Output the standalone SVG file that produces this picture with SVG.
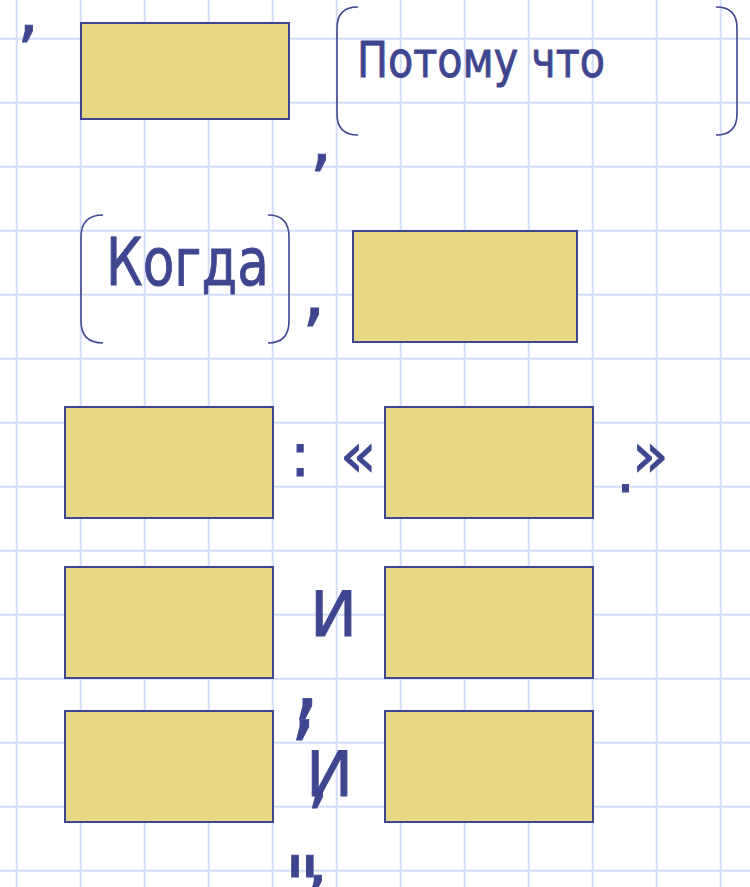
<svg xmlns="http://www.w3.org/2000/svg" width="750" height="887" viewBox="0 0 750 887">
<defs>
<style>
.grid line{stroke:#D3DDF8;stroke-width:2}
.box{fill:#EAD784;stroke:#3F4690;stroke-width:2}
.br{fill:none;stroke:#3F4690;stroke-width:1.6}
.t{fill:#3F4690;stroke:#3F4690;stroke-width:0.9;font-family:"DejaVu Sans","Liberation Sans",sans-serif}
</style>
</defs>
<rect width="750" height="887" fill="#fff"/>
<g class="grid">
<line x1="16.7" y1="0" x2="16.7" y2="887"/><line x1="80.7" y1="0" x2="80.7" y2="887"/><line x1="144.7" y1="0" x2="144.7" y2="887"/><line x1="208.7" y1="0" x2="208.7" y2="887"/><line x1="272.7" y1="0" x2="272.7" y2="887"/><line x1="336.7" y1="0" x2="336.7" y2="887"/><line x1="400.7" y1="0" x2="400.7" y2="887"/><line x1="464.7" y1="0" x2="464.7" y2="887"/><line x1="528.7" y1="0" x2="528.7" y2="887"/><line x1="592.7" y1="0" x2="592.7" y2="887"/><line x1="656.7" y1="0" x2="656.7" y2="887"/><line x1="720.7" y1="0" x2="720.7" y2="887"/>
<line x1="0" y1="38.7" x2="750" y2="38.7"/><line x1="0" y1="102.7" x2="750" y2="102.7"/><line x1="0" y1="166.7" x2="750" y2="166.7"/><line x1="0" y1="230.7" x2="750" y2="230.7"/><line x1="0" y1="294.7" x2="750" y2="294.7"/><line x1="0" y1="358.7" x2="750" y2="358.7"/><line x1="0" y1="422.7" x2="750" y2="422.7"/><line x1="0" y1="486.7" x2="750" y2="486.7"/><line x1="0" y1="550.7" x2="750" y2="550.7"/><line x1="0" y1="614.7" x2="750" y2="614.7"/><line x1="0" y1="678.7" x2="750" y2="678.7"/><line x1="0" y1="742.7" x2="750" y2="742.7"/><line x1="0" y1="806.7" x2="750" y2="806.7"/><line x1="0" y1="870.7" x2="750" y2="870.7"/>
</g>
<g id="row1">
<text class="t" x="17" y="34" font-size="70">,</text>
<rect id="box1" class="box" x="81" y="23" width="208" height="96"/>
<text class="t" x="310" y="163" font-size="70">,</text>
<g id="because">
<path class="br" d="M358,7 Q337,7 337,28 V114 Q337,135 358,135"/>
<path class="br" d="M716,7 Q737,7 737,28 V114 Q737,135 716,135"/>
<text class="t" x="357" y="77" font-size="49" textLength="248" lengthAdjust="spacingAndGlyphs">Потому что</text>
</g>
</g>
<g id="row2">
<g id="when">
<path class="br" d="M103,215 Q81,215 81,237 V321 Q81,343 103,343"/>
<path class="br" d="M268,215 Q289,215 289,237 V321 Q289,343 268,343"/>
<text class="t" x="106" y="285" font-size="66" textLength="163" lengthAdjust="spacingAndGlyphs">Когда</text>
</g>
<text class="t" x="302" y="317" font-size="75">,</text>
<rect id="box2" class="box" x="353" y="231" width="224" height="111"/>
</g>
<g id="row3">
<rect id="box3" class="box" x="65" y="407" width="208" height="111"/>
<text class="t" x="290" y="476" font-size="60">:</text>
<text class="t" x="340" y="476" font-size="60">«</text>
<rect id="box4" class="box" x="385" y="407" width="208" height="111"/>
<text class="t" x="616" y="492" font-size="60">.</text>
<text class="t" x="632" y="476" font-size="60">»</text>
</g>
<g id="row4">
<rect id="box5" class="box" x="65" y="567" width="208" height="111"/>
<text class="t" x="310" y="636" font-size="63">И</text>
<rect id="box6" class="box" x="385" y="567" width="208" height="111"/>
<text class="t" x="293" y="709" font-size="85">,</text>
<text class="t" x="290" y="730" font-size="85">,</text>
</g>
<g id="row5">
<rect id="box7" class="box" x="65" y="711" width="208" height="111"/>
<text class="t" x="306" y="796" font-size="63">И</text>
<text class="t" x="307" y="800" font-size="70">,</text>
<rect id="box8" class="box" x="385" y="711" width="208" height="111"/>
<text class="t" x="284" y="914" font-size="80" font-style="italic">"</text>
<text class="t" x="306" y="884" font-size="70">,</text>
</g>
</svg>
